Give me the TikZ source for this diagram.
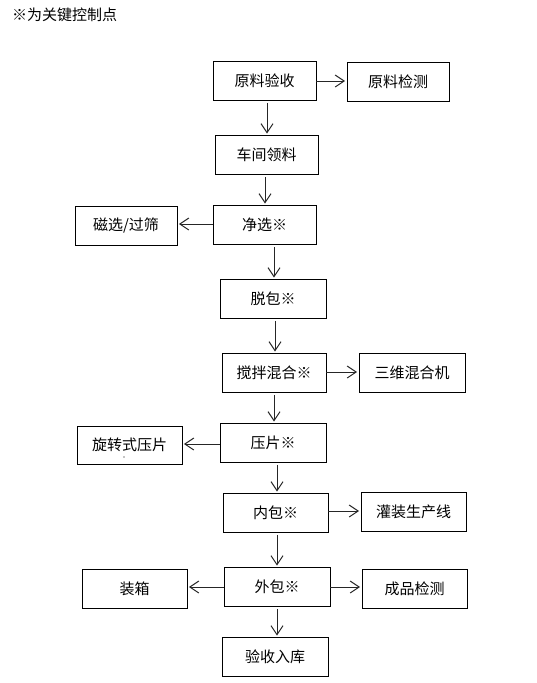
\documentclass[tikz,border=0pt]{standalone}
\usepackage{fontspec}
\setmainfont{Noto Sans CJK SC}
\usetikzlibrary{arrows.meta}
\tikzset{
  box/.style={draw=black, line width=0.9pt, rectangle, minimum width=#1, minimum height=39pt, inner sep=0pt, font=\fontsize{15}{17}\selectfont},
  box/.default=104pt,
  arr/.style={draw=black!85, line width=1pt, -{Straight Barb[length=9pt,width=12pt,line width=1pt]}},
  varr/.style={arr, shorten <=2.5pt, shorten >=1pt},
  harr/.style={arr, shorten >=1.5pt}
}
\begin{document}
\begin{tikzpicture}[x=1pt,y=-1pt]
\useasboundingbox (0,0) rectangle (537,683);
\node[anchor=west, inner sep=0pt, font=\fontsize{15}{17}\selectfont] (t) at (12,15) {※为关键控制点};
\node[box=103pt] (a) at (264.5,80.5) {原料验收};
\node[box=102pt] (b) at (398,81.5) {原料检测};
\node[box=103pt] (c) at (266.5,154.5) {车间领料};
\node[box=103pt] (d) at (264.5,224.5) {净选※};
\node[box=102pt] (e) at (126,225.5) {磁选/过筛};
\node[box=106pt] (f) at (273,298.5) {脱包※};
\node[box=104pt] (g) at (274,372.5) {搅拌混合※};
\node[box=106pt] (h) at (412,372.5) {三维混合机};
\node[box=106pt] (i) at (273,442.5) {压片※};
\node[box=105pt, minimum height=38pt] (j) at (129.5,445) {旋转式压片};
\fill (124,457) circle (0.6);
\node[box=105pt] (k) at (275.5,512.5) {内包※};
\node[box=105pt] (l) at (413.5,511.5) {灌装生产线};
\node[box=106pt] (m) at (277,586.5) {外包※};
\node[box=105pt] (n) at (134.5,588.5) {装箱};
\node[box=105pt] (o) at (414.5,588.5) {成品检测};
\node[box=106pt] (p) at (275,656.5) {验收入库};
% vertical connectors
\draw[varr] ([xshift=2.5pt]a.south) -- ([xshift=0.5pt]c.north);
\draw[varr] ([xshift=-1.5pt]c.south) -- ([xshift=0.5pt]d.north);
\draw[varr] ([xshift=9.5pt]d.south) -- ([xshift=1pt]f.north);
\draw[varr] ([xshift=2pt]f.south) -- ([xshift=1pt]g.north);
\draw[varr] ([xshift=0pt]g.south) -- ([xshift=1pt]i.north);
\draw[varr] ([xshift=4pt]i.south) -- ([xshift=1.5pt]k.north);
\draw[varr] ([xshift=1.5pt]k.south) -- ([xshift=0pt]m.north);
\draw[varr] ([xshift=0pt]m.south) -- ([xshift=2pt]p.north);
% horizontal connectors
\draw[harr] ([yshift=-0.5pt]a.east) -- ([yshift=0.5pt]b.west);
\draw[harr] ([yshift=0.5pt]d.west) -- ([yshift=1.5pt]e.east);
\draw[harr] ([yshift=0.5pt]g.east) -- ([yshift=0.5pt]h.west);
\draw[harr] ([yshift=-1.5pt]i.west) -- ([yshift=1pt]j.east);
\draw[harr] ([yshift=1.5pt]k.east) -- ([yshift=0.5pt]l.west);
\draw[harr] ([yshift=-0.5pt]m.west) -- ([yshift=1.5pt]n.east);
\draw[harr] ([yshift=-0.5pt]m.east) -- ([yshift=1.5pt]o.west);
\end{tikzpicture}
\end{document}
